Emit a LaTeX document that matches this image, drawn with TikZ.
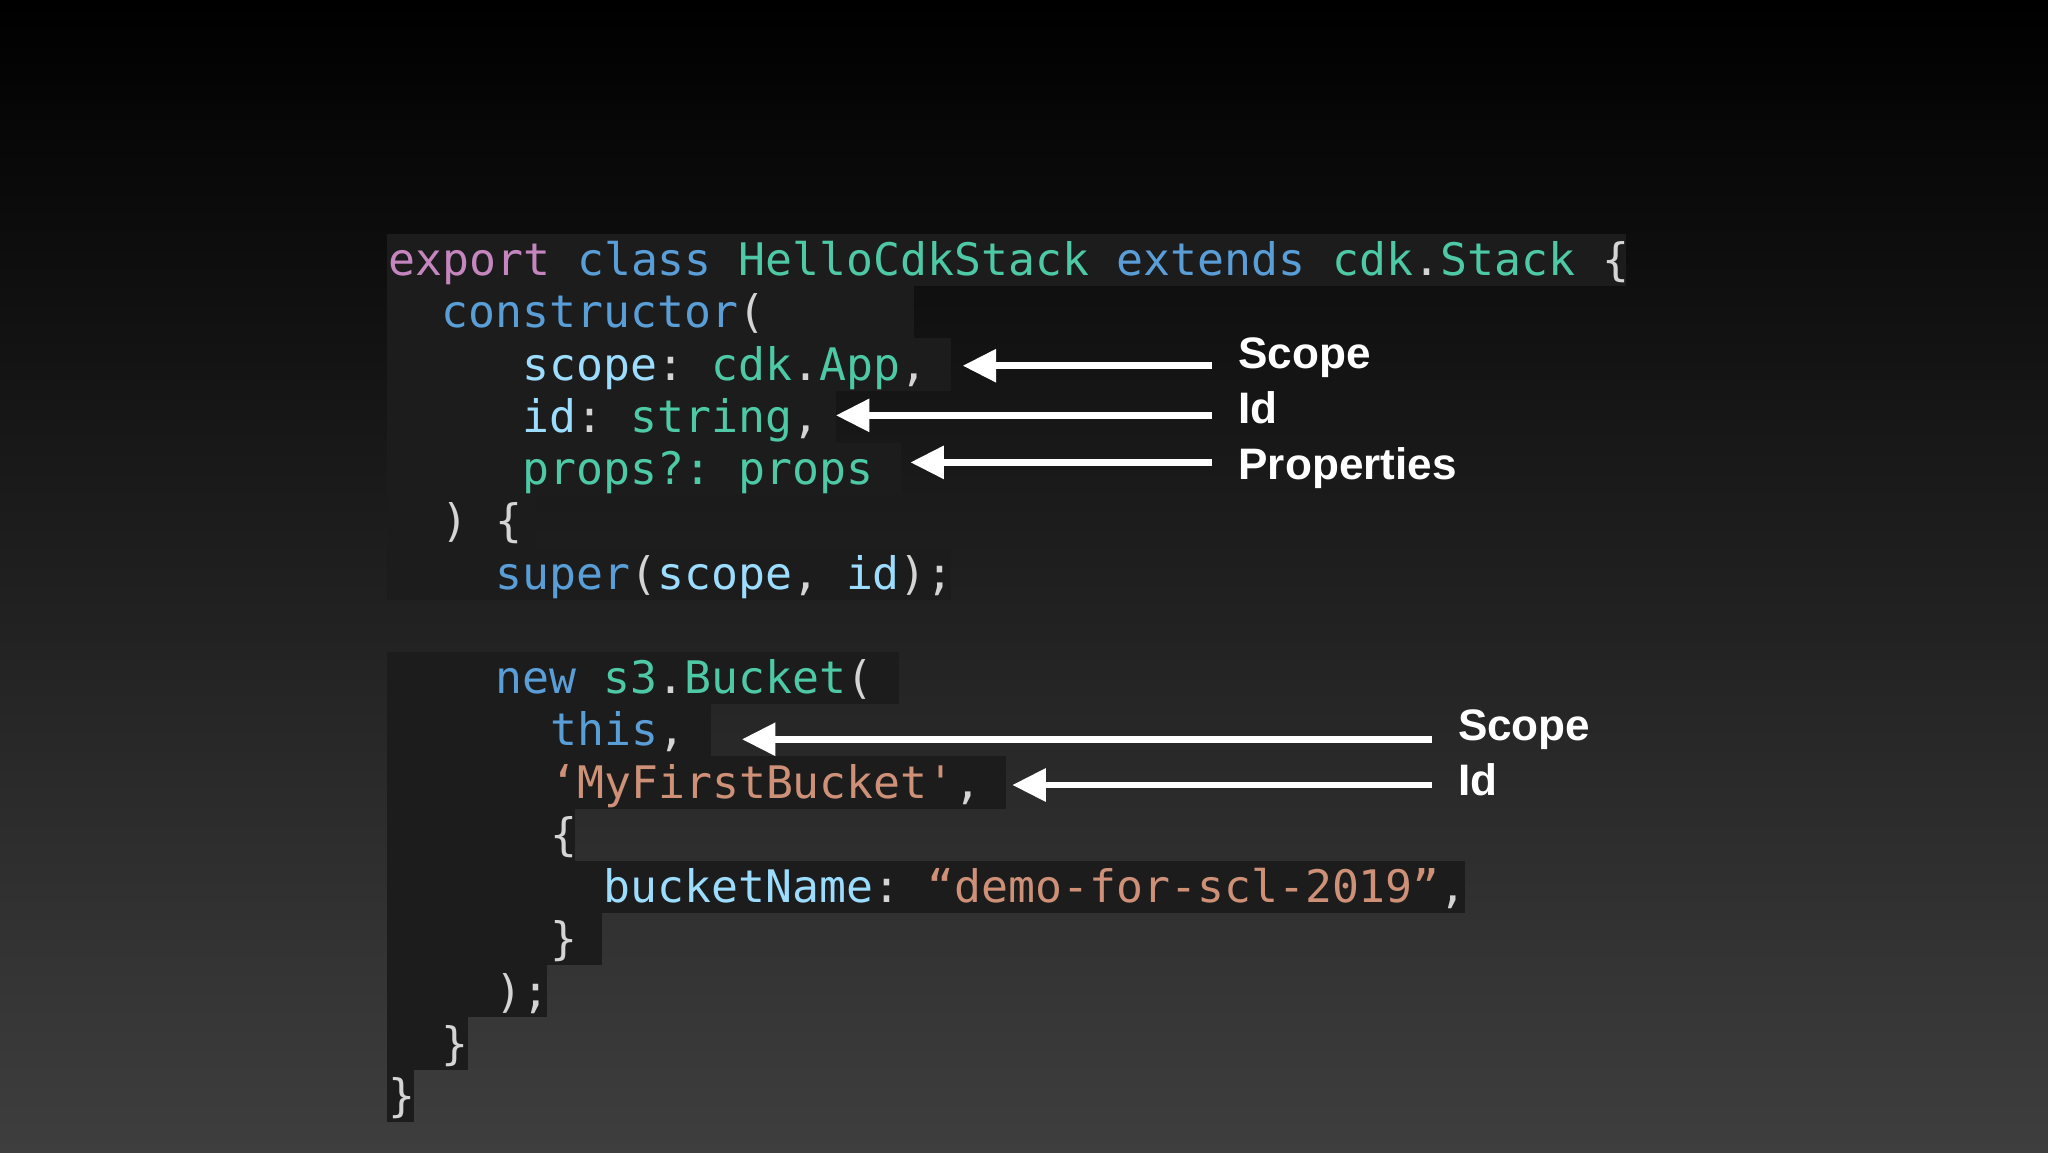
\documentclass[tikz,border=0pt]{standalone}
\usepackage{fontspec}
\setmonofont{DejaVu Sans Mono}
\newfontfamily\lblfont{Liberation Sans}
\usetikzlibrary{arrows.meta}
\definecolor{pk}{HTML}{C586C0}
\definecolor{bl}{HTML}{5A9ED8}
\definecolor{tl}{HTML}{4EC9A6}
\definecolor{lb}{HTML}{9CDCFE}
\definecolor{wh}{HTML}{D4D4D4}
\definecolor{og}{HTML}{CE9178}
\definecolor{cbox}{HTML}{1C1C1C}
\tikzset{
  code/.style={anchor=base west,inner sep=0pt,font=\ttfamily\fontsize{25.4}{30}\selectfont,text=wh},
  lbl/.style={anchor=west,inner sep=0pt,font=\lblfont\bfseries\fontsize{25}{30}\selectfont,text=white},
  arr/.style={draw=white,line width=3.8pt,-{Triangle[length=19pt,width=18pt]}},
  hl/.style={fill=cbox,draw=none}
}
\newcommand{\cp}[2]{\textcolor{#1}{#2}}
\begin{document}
\begin{tikzpicture}[x=0.7405pt,y=-0.7405pt]
\shade[top color=black,bottom color={rgb,255:red,62;green,62;blue,62}] (0,0) rectangle (1568,882);
\useasboundingbox (0,0) rectangle (1568,882);
% highlight boxes
\foreach \y/\r in {179/1245,219/700,259/728,299/640,339/690,379/410,419/728,499/688,539/544,579/770,619/440,659/1122,699/461,739/419,779/358,819/317}
  \fill[hl] (296,\y) rectangle (\r,\y+40);
% code lines
\node[code] (l1) at (297,211) {\cp{pk}{export} \cp{bl}{class} \cp{tl}{HelloCdkStack} \cp{bl}{extends} \cp{tl}{cdk}.\cp{tl}{Stack} \{};
\node[code] (l2) at (338,251) {\cp{bl}{constructor}(};
\node[code] (l3) at (400,291) {\cp{lb}{scope}: \cp{tl}{cdk}.\cp{tl}{App},};
\node[code] (l4) at (400,331) {\cp{lb}{id}: \cp{tl}{string},};
\node[code] (l5) at (400,371) {\cp{tl}{props?: props}};
\node[code] (l6) at (338,411) {) \{};
\node[code] (l7) at (379,451) {\cp{bl}{super}(\cp{lb}{scope}, \cp{lb}{id});};
\node[code] (l9) at (379,531) {\cp{bl}{new} \cp{tl}{s3}.\cp{tl}{Bucket}(};
\node[code] (l10) at (421,571) {\cp{bl}{this},};
\node[code] (l11) at (421,611) {\cp{og}{‘MyFirstBucket'},};
\node[code] (l12) at (421,651) {\{};
\node[code] (l13) at (462,691) {\cp{lb}{bucketName}: \cp{og}{“demo-for-scl-2019”},};
\node[code] (l14) at (421,731) {\}};
\node[code] (l15) at (379,771) {);};
\node[code] (l16) at (338,811) {\}};
\node[code] (l17) at (297,851) {\}};
% labels
\node[lbl] (s1) at (948,274) {Scope};
\node[lbl] (i1) at (948,312) {Id};
\node[lbl] (p1) at (948,358) {Properties};
\node[lbl] (s2) at (1116,559) {Scope};
\node[lbl] (i2) at (1116,597) {Id};
% arrow ends
\coordinate (a1s) at (928,280); \coordinate (a1e) at (737,280);
\coordinate (a2s) at (928,318); \coordinate (a2e) at (640,318);
\coordinate (a3s) at (928,354); \coordinate (a3e) at (697,354);
\coordinate (a4s) at (1096,566); \coordinate (a4e) at (568,566);
\coordinate (a5s) at (1096,601); \coordinate (a5e) at (775,601);
\draw[arr] (a1s) -- (a1e);
\draw[arr] (a2s) -- (a2e);
\draw[arr] (a3s) -- (a3e);
\draw[arr] (a4s) -- (a4e);
\draw[arr] (a5s) -- (a5e);
\end{tikzpicture}
\end{document}
